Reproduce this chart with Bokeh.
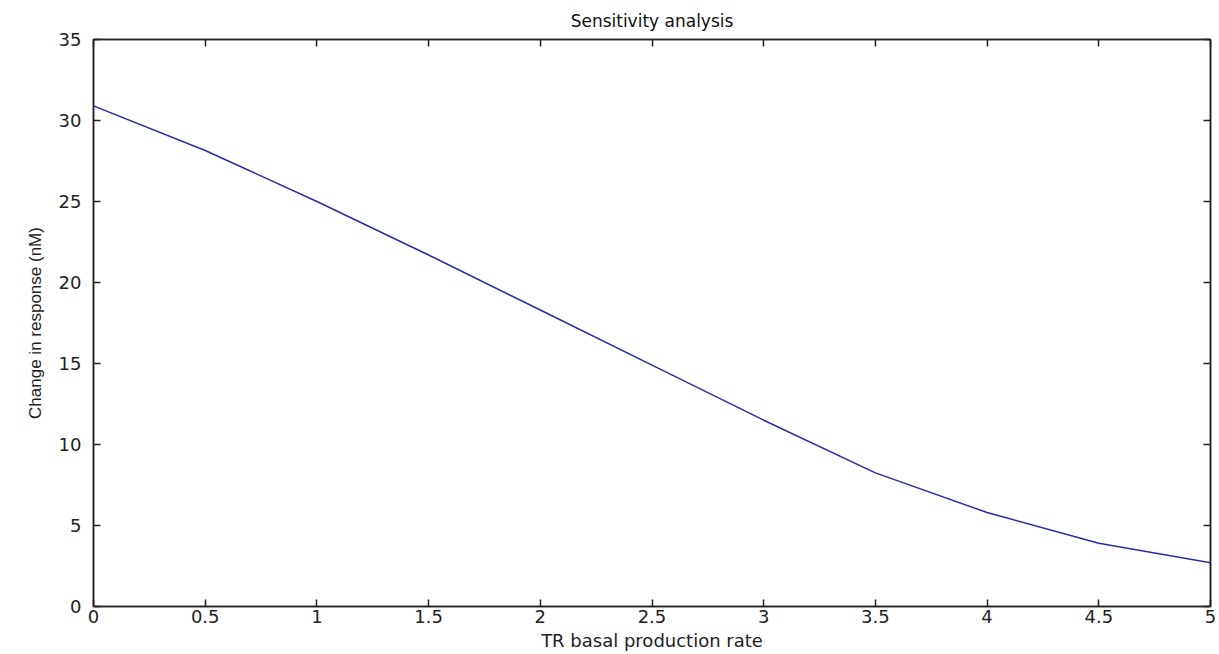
from bokeh.plotting import figure
from bokeh.models import Range1d, LinearAxis, FixedTicker, Title
from bokeh.embed import file_html
from bokeh.resources import INLINE

# Data
tr_rate = [0.0, 0.5, 1.0, 1.5, 2.0, 2.5, 3.0, 3.5, 4.0, 4.5, 5.0]
response_change = [30.9, 28.15, 25.0, 21.7, 18.3, 14.9, 11.5, 8.25, 5.8, 3.9, 2.7]
x_ticks = [0, 0.5, 1, 1.5, 2, 2.5, 3, 3.5, 4, 4.5, 5]
y_ticks = [0, 5, 10, 15, 20, 25, 30, 35]

FONT = "DejaVu Sans"

p = figure(width=1219, height=654, output_backend="svg", toolbar_location=None,
           x_range=Range1d(0, 5), y_range=Range1d(0, 35),
           min_border_left=93, min_border_right=9, min_border_top=39, min_border_bottom=48)
p.title = Title(text="Sensitivity analysis", align="center", text_font=FONT,
                text_font_size="17px", text_font_style="normal", text_color="#111111",
                offset=0, standoff=17)

p.xgrid.visible = False
p.ygrid.visible = False
p.outline_line_color = "#222222"
p.outline_line_width = 1.5
p.background_fill_color = "white"
p.border_fill_color = "white"

p.line(tr_rate, response_change, line_color="#2b2ba8", line_width=1.5)

def style(ax, labels=True):
    ax.axis_line_color = "#222222"
    ax.axis_line_width = 1.5
    ax.major_tick_in = 7
    ax.major_tick_out = 0
    ax.major_tick_line_color = "#222222"
    ax.major_tick_line_width = 1.5
    ax.minor_tick_line_color = None
    ax.major_label_text_font = FONT
    ax.major_label_text_font_size = "18px"
    ax.major_label_text_color = "#222222"
    if not labels:
        ax.major_label_text_font_size = "0px"
        ax.major_label_text_alpha = 0

xa = p.xaxis[0]
xa.ticker = FixedTicker(ticks=x_ticks)
xa.major_label_overrides = {t: ("%g" % t) for t in x_ticks}
style(xa)
xa.major_label_standoff = 3
xa.axis_label = "TR basal production rate"
xa.axis_label_text_font = FONT
xa.axis_label_text_font_size = "18px"
xa.axis_label_text_font_style = "normal"
xa.axis_label_text_color = "#222222"
xa.axis_label_standoff = 4

ya = p.yaxis[0]
ya.ticker = FixedTicker(ticks=y_ticks)
style(ya)
ya.major_label_standoff = 12
ya.axis_label = "Change in response (nM)"
ya.axis_label_text_font = "Liberation Sans"
ya.axis_label_text_font_size = "17px"
ya.axis_label_text_font_style = "normal"
ya.axis_label_text_color = "#222222"
ya.axis_label_standoff = 11

top = LinearAxis(ticker=FixedTicker(ticks=x_ticks))
style(top, labels=False)
p.add_layout(top, "above")
right = LinearAxis(ticker=FixedTicker(ticks=y_ticks))
style(right, labels=False)
p.add_layout(right, "right")

open("out.html", "w").write(file_html(p, INLINE))
